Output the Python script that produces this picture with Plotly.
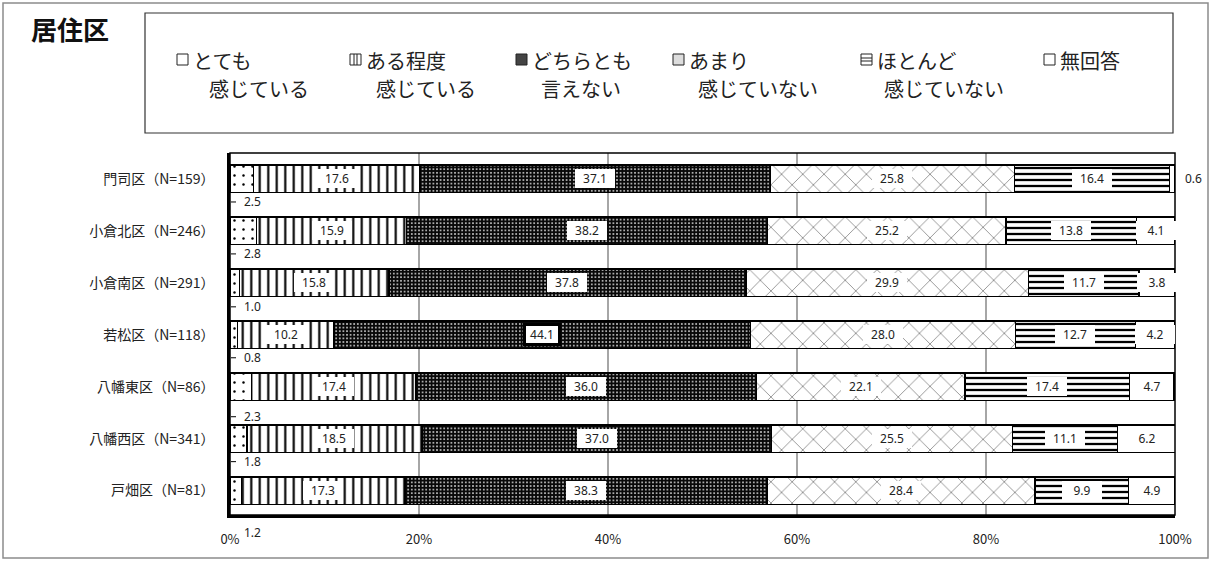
import plotly.graph_objects as go

# ---------------- data ----------------
categories = ["門司区（N=159）", "小倉北区（N=246）", "小倉南区（N=291）", "若松区（N=118）",
              "八幡東区（N=86）", "八幡西区（N=341）", "戸畑区（N=81）"]
series_names = ["とても感じている", "ある程度感じている", "どちらとも言えない",
                "あまり感じていない", "ほとんど感じていない", "無回答"]
legend_line1 = ["とても", "ある程度", "どちらとも", "あまり", "ほとんど", "無回答"]
legend_line2 = ["感じている", "感じている", "言えない", "感じていない", "感じていない", ""]

v_totemo = [2.5, 2.8, 1.0, 0.8, 2.3, 1.8, 1.2]
v_aru = [17.6, 15.9, 15.8, 10.2, 17.4, 18.5, 17.3]
v_dochira = [37.1, 38.2, 37.8, 44.1, 36.0, 37.0, 38.3]
v_amari = [25.8, 25.2, 29.9, 28.0, 22.1, 25.5, 28.4]
v_hotondo = [16.4, 13.8, 11.7, 12.7, 17.4, 11.1, 9.9]
v_mukaitou = [0.6, 4.1, 3.8, 4.2, 4.7, 6.2, 4.9]

x_ticks = [0, 20, 40, 60, 80, 100]
x_tick_labels = ["0%", "20%", "40%", "60%", "80%", "100%"]

all_values = [v_totemo, v_aru, v_dochira, v_amari, v_hotondo, v_mukaitou]

# ---------------- styles / layout geometry ----------------
W, H = 1211, 562
L, R, T, B = 230, 1175, 153, 515


def px(x):
    return (x - L) / (R - L)


def py(y):
    return (B - y) / (B - T)


patterns = [
    dict(shape=".", fgcolor="black", bgcolor="white", size=9, solidity=0.06, fillmode="replace"),
    dict(shape="|", fgcolor="black", bgcolor="white", size=8.5, solidity=0.25, fillmode="replace"),
    dict(shape=".", fgcolor="#e0e0e0", bgcolor="#080808", size=3.6, solidity=0.2, fillmode="replace"),
    dict(shape="x", fgcolor="#222", bgcolor="white", size=15, solidity=0.06, fillmode="replace"),
    dict(shape="-", fgcolor="black", bgcolor="white", size=6, solidity=0.38, fillmode="replace"),
    dict(shape="", fgcolor="black", bgcolor="white"),
]

JP = "Noto Sans CJK JP"
NUM = "Noto Sans"

fig = go.Figure()
for name, vals, pat in zip(series_names, all_values, patterns):
    fig.add_trace(go.Bar(
        y=categories, x=vals, name=name, orientation="h",
        width=0.53,
        marker=dict(color="white", pattern=pat, line=dict(color="black", width=1.5)),
        showlegend=False, hoverinfo="skip",
    ))

annotations = []
shapes = []

# first-series labels placed below bars (as in the original, with small leader ticks)
first_label_shift = [-23, -23, -24, -23, -30, -23, -42]
first_leader = [True, True, True, True, True, True, False]
for cat, v, sh, ld in zip(categories, v_totemo, first_label_shift, first_leader):
    annotations.append(dict(x=0, y=cat, xref="x", yref="y", text=f"{v:.1f}", showarrow=False,
                            xshift=22, yshift=sh, font=dict(family=NUM, size=12, color="#222")))
    if ld:
        shapes.append(dict(type="line", xref="x", yref="y", xsizemode="pixel", ysizemode="pixel",
                           xanchor=0, yanchor=cat, x0=1, x1=6, y0=sh, y1=sh,
                           line=dict(color="black", width=1)))

# inner labels for other series
for si in range(1, 6):
    for ci, cat in enumerate(categories):
        start = sum(all_values[k][ci] for k in range(si))
        v = all_values[si][ci]
        if si == 5 and v < 1.5:
            annotations.append(dict(x=100, y=cat, xref="x", yref="y", text=f"{v:.1f}",
                                    showarrow=False, xshift=18,
                                    font=dict(family=NUM, size=12, color="#222")))
            continue
        selected = (si == 2 and v == max(v_dochira))
        annotations.append(dict(
            x=start + v / 2, y=cat, xref="x", yref="y", text=f"{v:.1f}", showarrow=False,
            font=dict(family=NUM, size=12, color="#222"),
            bgcolor="white",
            width=30 if selected else 40, height=15 if selected else 19,
            bordercolor="black" if selected else "rgba(0,0,0,0)",
            borderwidth=3 if selected else 0, borderpad=1 if selected else 0,
        ))

# title
annotations.append(dict(x=px(29), y=py(28), xref="paper", yref="paper", xanchor="left",
                        yanchor="middle", text="<b>居住区</b>", showarrow=False,
                        font=dict(family=JP, size=26, color="#111")))

# legend (custom box)
leg_sw_x = [177, 350, 516, 673, 861, 1044]
leg_l2_x = [207, 374, 539, 696, 882, 0]
sw_top, sw_bot = 54, 65
for i in range(6):
    x0 = leg_sw_x[i]
    annotations.append(dict(x=px(x0 + 14), y=py(60), xref="paper", yref="paper", xanchor="left",
                            yanchor="middle", text=legend_line1[i], showarrow=False,
                            font=dict(family=JP, size=20, color="#222")))
    if legend_line2[i]:
        annotations.append(dict(x=px(leg_l2_x[i]), y=py(88), xref="paper", yref="paper",
                                xanchor="left", yanchor="middle", text=legend_line2[i],
                                showarrow=False, font=dict(family=JP, size=20, color="#222")))
    fill = {2: "#444444", 3: "#dddddd"}.get(i, "white")
    shapes.append(dict(type="rect", xref="paper", yref="paper", x0=px(x0), x1=px(x0 + 11),
                       y0=py(sw_bot), y1=py(sw_top), fillcolor=fill,
                       line=dict(color="#222", width=1)))
    if i == 1:
        for xx in (x0 + 4, x0 + 7):
            shapes.append(dict(type="line", xref="paper", yref="paper", x0=px(xx), x1=px(xx),
                               y0=py(sw_bot), y1=py(sw_top), line=dict(color="#222", width=1)))
    if i == 4:
        for yy in (sw_top + 4, sw_top + 7):
            shapes.append(dict(type="line", xref="paper", yref="paper", x0=px(x0), x1=px(x0 + 11),
                               y0=py(yy), y1=py(yy), line=dict(color="#222", width=1)))

# legend border
shapes.append(dict(type="rect", xref="paper", yref="paper", x0=px(145), x1=px(1173),
                   y0=py(133), y1=py(13), line=dict(color="#333", width=1.2), layer="below"))
# outer chart border
shapes.append(dict(type="rect", xref="paper", yref="paper", x0=px(3), x1=px(1208),
                   y0=py(558), y1=py(3), line=dict(color="#8c8c8c", width=1.5), layer="below"))
# plot-area frame
shapes.append(dict(type="rect", xref="paper", yref="paper", x0=0, x1=1, y0=0, y1=1,
                   line=dict(color="black", width=1.5), layer="above"))

fig.update_layout(
    width=W, height=H,
    margin=dict(l=L, r=W - R, t=T, b=H - B, pad=0),
    barmode="stack",
    plot_bgcolor="white", paper_bgcolor="white",
    annotations=annotations,
    shapes=shapes,
    xaxis=dict(range=[0, 100], tickvals=x_ticks, ticktext=x_tick_labels,
               showgrid=True, gridcolor="#a6a6a6", gridwidth=1.5, zeroline=False,
               showline=True, linecolor="black", linewidth=2.5,
               ticks="", ticklabelstandoff=11,
               tickfont=dict(family=JP, size=13, color="#222"), fixedrange=True),
    yaxis=dict(range=[len(categories) - 0.53, -0.5], autorange=False,
               showgrid=False, zeroline=False,
               showline=True, linecolor="black", linewidth=2.5,
               ticks="", ticklabelstandoff=10,
               tickfont=dict(family=JP, size=14, color="#222"), fixedrange=True),
)

fig.write_html("out.html")
